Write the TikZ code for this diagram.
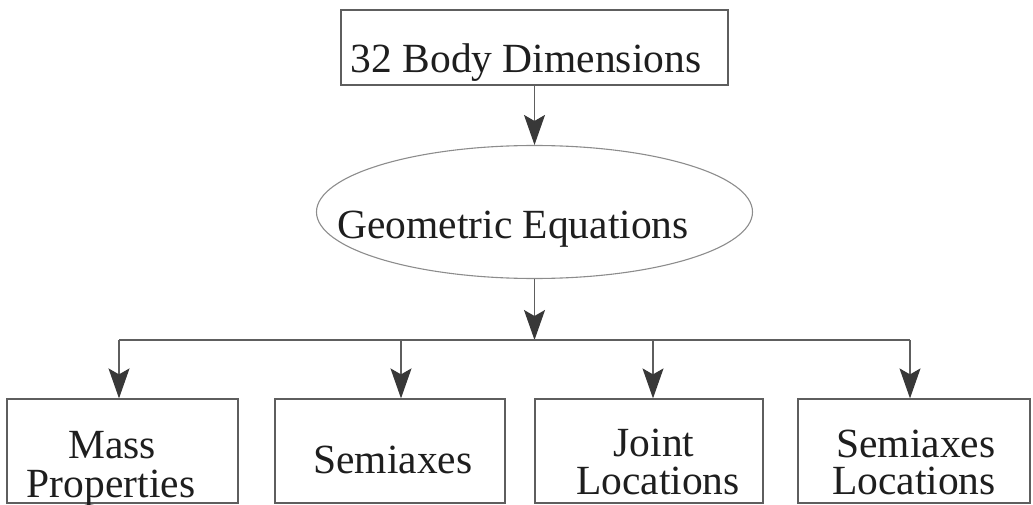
\documentclass[tikz,border=0pt]{standalone}
\usepackage{fontspec}
\setmainfont{Liberation Serif}
\usetikzlibrary{arrows.meta,shapes.geometric}
\definecolor{linegray}{HTML}{5E5E5E}
\definecolor{ellgray}{HTML}{8C8C8C}
\definecolor{tipgray}{HTML}{383838}
\definecolor{txt}{HTML}{1E1E1E}
\tikzset{
  boxst/.style={draw=linegray, line width=1.2pt, rectangle, inner sep=0pt},
  ellst/.style={draw=ellgray, line width=1.1pt, ellipse, inner sep=0pt, minimum width=436pt, minimum height=133pt},
  conn/.style={draw=linegray, line width=1.2pt},
  arr/.style={conn, -{Stealth[length=30pt, width=21pt, inset=6pt, fill=tipgray, color=tipgray]}},
  bigtxt/.style={text=txt, anchor=base, inner sep=0pt, font=\fontsize{41.5}{45}\selectfont},
  lowtxt/.style={text=txt, anchor=base, inner sep=0pt, font=\fontsize{41.5}{40}\selectfont},
}
\begin{document}
\begin{tikzpicture}[x=1pt, y=-1pt]
\useasboundingbox (0,0) rectangle (1033,505);
% top box
\node[boxst, minimum width=387pt, minimum height=75pt] (top) at (534.5,47.5) {};
\node[bigtxt] (toptxt) at (526,73) {32 Body Dimensions};
% ellipse
\node[ellst] (ell) at (534.5,212) {};
\node[bigtxt] (elltxt) at (513,238) {Geometric Equations};
% bottom boxes
\node[boxst, minimum width=231pt, minimum height=104pt] (b1) at (122.5,451) {};
\node[boxst, minimum width=230pt, minimum height=104pt] (b2) at (390,451) {};
\node[boxst, minimum width=228pt, minimum height=104pt] (b3) at (649,451) {};
\node[boxst, minimum width=232pt, minimum height=104pt] (b4) at (914,451) {};
\node[lowtxt] (b1a) at (112,458) {Mass};
\node[lowtxt] (b1b) at (111,497) {Properties};
\node[lowtxt] (b2a) at (393,473) {Semiaxes};
\node[lowtxt] (b3a) at (654,456) {Joint};
\node[lowtxt] (b3b) at (658,494) {Locations};
\node[lowtxt] (b4a) at (916,457) {Semiaxes};
\node[lowtxt] (b4b) at (914,494) {Locations};
% connectors
\coordinate (j) at (534.5,340);
\coordinate (d1) at (119,340);
\coordinate (d2) at (401,340);
\coordinate (d3) at (653,340);
\coordinate (d4) at (910,340);
\draw[arr] (top.south) -- (ell.north);
\draw[arr] (ell.south) -- (j);
\draw[conn] (d1) -- (d4);
\draw[arr] (d1) -- (d1 |- b1.north);
\draw[arr] (d2) -- (d2 |- b2.north);
\draw[arr] (d3) -- (d3 |- b3.north);
\draw[arr] (d4) -- (d4 |- b4.north);
\end{tikzpicture}
\end{document}
